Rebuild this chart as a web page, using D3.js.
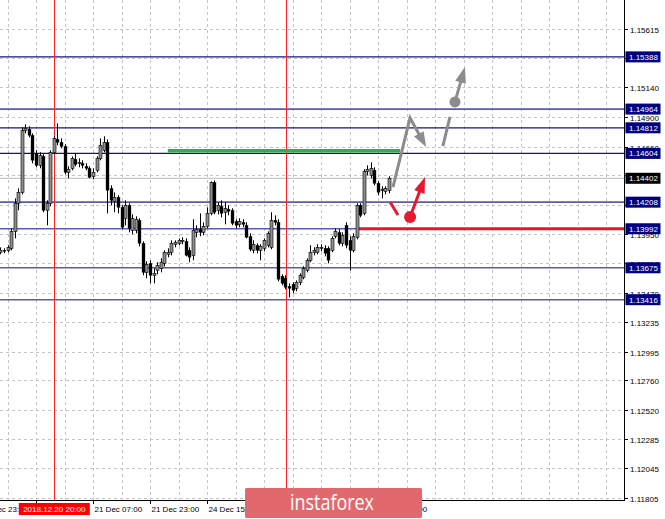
<!DOCTYPE html>
<html><head><meta charset="utf-8">
<script src="https://cdn.jsdelivr.net/npm/d3@7"></script>
<style>body{margin:0;background:#fff}svg{display:block}text{font-family:"Liberation Sans",Arial,sans-serif}</style>
</head><body>
<svg id="c" width="665" height="519"></svg>
<script>
// ---- data (EURUSD H1) ----
const opens = [1.13801,1.13817,1.13817,1.13833,1.13971,1.14199,1.14288,1.14791,1.14800,1.14751,
1.14605,1.14507,1.14580,1.14142,1.14199,1.14613,1.14718,1.14694,1.14661,1.14450,
1.14483,1.14556,1.14523,1.14523,1.14499,1.14483,1.14418,1.14467,1.14564,1.14629,
1.14694,1.14320,1.14215,1.14247,1.14166,1.14077,1.14182,1.13979,1.13979,1.14061,
1.13874,1.13638,1.13711,1.13614,1.13655,1.13671,1.13711,1.13785,1.13801,1.13866,
1.13874,1.13890,1.13890,1.13817,1.13776,1.13963,1.13988,1.13963,1.14012,1.14117,
1.14369,1.14142,1.14174,1.14126,1.14150,1.14142,1.14052,1.14028,1.14044,1.14020,
1.13931,1.13817,1.13858,1.13817,1.13833,1.13858,1.13841,1.14061,1.14044,1.13606,
1.13590,1.13525,1.13541,1.13508,1.13557,1.13598,1.13655,1.13736,1.13801,1.13801,
1.13833,1.13833,1.13833,1.13817,1.13931,1.13963,1.13874,1.14020,1.13898,1.13817,
1.13923,1.14182,1.14117,1.14458,1.14426,1.14467,1.14361,1.14304,1.14296,1.14304];
const highs = [1.13841,1.13833,1.13858,1.13996,1.14239,1.14320,1.14816,1.14840,1.14824,1.14767,
1.14629,1.14613,1.14597,1.14223,1.14629,1.14743,1.14848,1.14726,1.14678,1.14499,
1.14580,1.14605,1.14564,1.14548,1.14523,1.14499,1.14483,1.14580,1.14726,1.14743,
1.14718,1.14345,1.14288,1.14264,1.14182,1.14223,1.14199,1.14109,1.14093,1.14077,
1.13890,1.13728,1.13736,1.13671,1.13720,1.13752,1.13817,1.13833,1.13898,1.13898,
1.13914,1.13923,1.13914,1.13841,1.14069,1.14020,1.14117,1.14044,1.14166,1.14377,
1.14385,1.14207,1.14223,1.14207,1.14182,1.14158,1.14069,1.14077,1.14069,1.14044,
1.13955,1.13898,1.13874,1.13866,1.13914,1.13971,1.14126,1.14101,1.14069,1.13622,
1.13614,1.13549,1.13557,1.13573,1.13630,1.13687,1.13752,1.13858,1.13841,1.13866,
1.13866,1.13858,1.13849,1.13931,1.13996,1.13988,1.13963,1.14044,1.13931,1.13955,
1.14199,1.14199,1.14475,1.14507,1.14532,1.14491,1.14377,1.14337,1.14337,1.14418];
const lows = [1.13785,1.13793,1.13801,1.13817,1.13914,1.14142,1.14272,1.14767,1.14735,1.14523,
1.14491,1.14483,1.14126,1.14020,1.14174,1.14597,1.14670,1.14645,1.14434,1.14402,
1.14467,1.14499,1.14491,1.14483,1.14467,1.14402,1.14394,1.14450,1.14548,1.14613,
1.14117,1.14182,1.14126,1.14117,1.13988,1.14020,1.13963,1.13947,1.13955,1.13849,
1.13614,1.13590,1.13549,1.13549,1.13622,1.13638,1.13687,1.13760,1.13776,1.13841,
1.13858,1.13866,1.13768,1.13720,1.13736,1.13923,1.13931,1.13939,1.13996,1.14101,
1.14109,1.14109,1.14085,1.14028,1.14101,1.14020,1.13996,1.14004,1.14004,1.13914,
1.13809,1.13793,1.13793,1.13736,1.13809,1.13841,1.13825,1.14020,1.13565,1.13533,
1.13500,1.13435,1.13468,1.13484,1.13533,1.13582,1.13638,1.13720,1.13776,1.13785,
1.13809,1.13768,1.13711,1.13801,1.13914,1.13858,1.13849,1.13833,1.13655,1.13801,
1.13906,1.14085,1.14101,1.14426,1.14402,1.14345,1.14264,1.14239,1.14272,1.14280];
const closes = [1.13817,1.13809,1.13841,1.13971,1.14199,1.14288,1.14791,1.14808,1.14751,1.14548,
1.14507,1.14588,1.14142,1.14199,1.14613,1.14726,1.14694,1.14661,1.14450,1.14475,
1.14564,1.14515,1.14532,1.14507,1.14483,1.14410,1.14450,1.14564,1.14670,1.14694,
1.14304,1.14223,1.14247,1.14166,1.14004,1.14182,1.13996,1.14077,1.14069,1.13874,
1.13638,1.13703,1.13614,1.13630,1.13695,1.13720,1.13801,1.13801,1.13874,1.13882,
1.13898,1.13898,1.13776,1.13760,1.13979,1.13988,1.13963,1.14012,1.14117,1.14369,
1.14126,1.14182,1.14117,1.14158,1.14134,1.14036,1.14020,1.14052,1.14028,1.13923,
1.13825,1.13866,1.13817,1.13849,1.13898,1.13955,1.14061,1.14044,1.13582,1.13549,
1.13517,1.13508,1.13492,1.13557,1.13614,1.13671,1.13736,1.13801,1.13817,1.13841,
1.13841,1.13793,1.13736,1.13914,1.13971,1.13874,1.13939,1.13858,1.13817,1.13931,
1.14182,1.14101,1.14458,1.14475,1.14483,1.14361,1.14288,1.14312,1.14320,1.14402];

// visible price-scale labels (those fully hidden under level boxes are omitted)
const priceTicks = [1.15615,1.15380,1.15140,1.14900,1.14660,1.14425,1.14185,1.13950,1.13710,
  1.13470,1.13235,1.12995,1.12760,1.12520,1.12285,1.12045,1.11805];
const hiddenPriceLabels = [1.15380,1.14185];
const levelPrices = [1.15388,1.14964,1.14812,1.14604,1.14208,1.13992,1.13675,1.13416];
const levelStrong = [true,false,true,true,false,false,false,false];
const currentPrice = 1.14402;
const timeLabels = ["19 Dec 23:00","20 Dec 15:00","21 Dec 07:00","21 Dec 23:00","24 Dec 15:00","25 Dec 07:00","25 Dec 23:00","26 Dec 15:00"];
const timeLabelBars = [-6,10,26,42,58,74,90,106];
const hiddenTimeLabels = ["20 Dec 15:00","25 Dec 07:00","25 Dec 23:00"];
const markerBars = [15, 80.3];
const markerText = "2018.12.20 20:00";
// annotations: [bar index, price]
const greenLine = {price:1.14625, from:47, to:112.2};
const redLine = {price:1.13992, from:100.4};
const grayZigzag = [[110.2,1.14331],[115,1.14892],[119.5,1.14656]];
const graySeg = [[124.2,1.14664],[126.2,1.14900]];
const grayDot = [127.6,1.15022], grayArrowEnd = [130.4,1.15306];
const redSeg = [[109.4,1.14209],[111.6,1.14104]];
const redDot = [115,1.14087], redArrowEnd = [119.2,1.14412];

// ---- drawing ----
const svg = d3.select('#c');
const PW = 624, PH = 500;
const x = d3.scaleLinear().domain([0,109]).range([0.375,388.69]);
const y = d3.scaleLinear().domain([1.11789,1.15850]).range([PH,0]);
svg.append('defs').append('clipPath').attr('id','pc').append('rect').attr('width',PW).attr('height',PH);
const plot = svg.append('g').attr('clip-path','url(#pc)');

// grid
priceTicks.forEach(p=>{
  const yy = Math.round(y(p))+0.5;
  plot.append('line').attr('x1',0).attr('x2',PW).attr('y1',yy).attr('y2',yy)
    .attr('stroke','#c4c4c4').attr('stroke-dasharray','3,3');
});
d3.range(2,176,8).forEach(i=>{
  const xx = Math.round(x(i))+0.5;
  plot.append('line').attr('x1',xx).attr('x2',xx).attr('y1',0).attr('y2',PH)
    .attr('stroke','#c4c4c4').attr('stroke-dasharray','3,3');
});

// levels
levelPrices.forEach((p,k)=>{
  const yy = y(p);
  plot.append('line').attr('x1',0).attr('x2',PW).attr('y1',yy).attr('y2',yy)
    .attr('stroke',levelStrong[k]?'#14147a':'#5a5ab0').attr('stroke-width',levelStrong[k]?1.2:1.6);
});
plot.append('line').attr('x1',0).attr('x2',PW).attr('y1',y(currentPrice)).attr('y2',y(currentPrice))
  .attr('stroke','#c8c8c8').attr('stroke-width',1.3);

// marker verticals
markerBars.forEach(b=>{
  const xx = Math.round(x(b))+0.5;
  plot.append('line').attr('x1',xx).attr('x2',xx).attr('y1',0).attr('y2',PH).attr('stroke','#ff2020').attr('stroke-width',1);
});

// green & red horizontal annotations
plot.append('line').attr('x1',x(greenLine.from)).attr('x2',x(greenLine.to))
  .attr('y1',y(greenLine.price)).attr('y2',y(greenLine.price)).attr('stroke','#2fae4e').attr('stroke-width',3.5);
plot.append('line').attr('x1',x(redLine.from)).attr('x2',PW)
  .attr('y1',y(redLine.price)).attr('y2',y(redLine.price)).attr('stroke','#e4162b').attr('stroke-width',3);

// candles
const bars = opens.map((o,i)=>({i,o,h:highs[i],l:lows[i],c:closes[i]}));
const cg = plot.append('g');
bars.forEach(d=>{
  const cx = Math.round(x(d.i))+0.5;
  cg.append('line').attr('x1',cx).attr('x2',cx)
    .attr('y1',y(Math.max(d.h,d.o,d.c))).attr('y2',y(Math.min(d.l,d.o,d.c))).attr('stroke','#000').attr('stroke-width',1);
  const top = y(Math.max(d.o,d.c)), bot = y(Math.min(d.o,d.c));
  const bull = d.c>=d.o;
  cg.append('rect').attr('x',cx-1.5).attr('width',3).attr('y',top).attr('height',Math.max(1,bot-top))
    .attr('fill',bull?'#8e8e8e':'#000').attr('stroke','#000').attr('stroke-width',bull?0.6:0.3);
});

// arrows
function head(g,x1,y1,x2,y2,color,len,wid){
  const a = Math.atan2(y2-y1,x2-x1);
  const bx = x2-len*Math.cos(a), by = y2-len*Math.sin(a);
  const px = Math.sin(a)*wid/2, py = -Math.cos(a)*wid/2;
  g.append('path').attr('d',`M${x2},${y2}L${bx+px},${by+py}L${bx-px},${by-py}Z`).attr('fill',color);
  return [bx+ (x2-bx)*0.2, by+(y2-by)*0.2];
}
const ag = svg.append('g');
const gray = '#8c8c8c', red = '#e8182d';
{
  const pts = grayZigzag.map(p=>[x(p[0]),y(p[1])]);
  const n = pts.length;
  const base = head(ag,pts[n-2][0],pts[n-2][1],pts[n-1][0],pts[n-1][1],gray,15,11);
  const lp = pts.slice(0,n-1).concat([base]);
  ag.append('path').attr('d',d3.line()(lp)).attr('fill','none').attr('stroke',gray).attr('stroke-width',3).attr('stroke-linejoin','miter');
}
ag.append('path').attr('d',d3.line()(graySeg.map(p=>[x(p[0]),y(p[1])]))).attr('stroke',gray).attr('stroke-width',3);
{
  const dx=x(grayDot[0]), dy=y(grayDot[1]), ex=x(grayArrowEnd[0]), ey=y(grayArrowEnd[1]);
  const base = head(ag,dx,dy,ex,ey,gray,16,11);
  ag.append('line').attr('x1',dx).attr('y1',dy).attr('x2',base[0]).attr('y2',base[1]).attr('stroke',gray).attr('stroke-width',3);
  ag.append('circle').attr('cx',dx).attr('cy',dy).attr('r',5.5).attr('fill',gray);
}
ag.append('path').attr('d',d3.line()(redSeg.map(p=>[x(p[0]),y(p[1])]))).attr('stroke',red).attr('stroke-width',3);
{
  const dx=x(redDot[0]), dy=y(redDot[1]), ex=x(redArrowEnd[0]), ey=y(redArrowEnd[1]);
  const base = head(ag,dx,dy,ex,ey,red,16,11);
  ag.append('line').attr('x1',dx).attr('y1',dy).attr('x2',base[0]).attr('y2',base[1]).attr('stroke',red).attr('stroke-width',3);
  ag.append('circle').attr('cx',dx).attr('cy',dy).attr('r',6).attr('fill',red);
}

// axes frame
svg.append('line').attr('x1',PW+0.5).attr('x2',PW+0.5).attr('y1',0).attr('y2',PH+1).attr('stroke','#000');
svg.append('line').attr('x1',0).attr('x2',PW+1).attr('y1',PH+0.5).attr('y2',PH+0.5).attr('stroke','#000');

// price tick labels
priceTicks.forEach(p=>{
  const yy = Math.round(y(p))+0.5;
  svg.append('line').attr('x1',PW+1).attr('x2',PW+4).attr('y1',yy).attr('y2',yy).attr('stroke','#000');
  if (hiddenPriceLabels.includes(p)) return;
  svg.append('text').attr('x',PW+6).attr('y',yy+3).attr('font-size',8).attr('fill','#000').text(d3.format('.5f')(p));
});
function box(p,fill){
  const yy = y(p);
  svg.append('rect').attr('x',PW+1.5).attr('y',yy-5.5).attr('width',35).attr('height',11).attr('fill',fill);
  svg.append('text').attr('x',PW+5).attr('y',yy+3).attr('font-size',8).attr('fill','#fff').text(d3.format('.5f')(p));
}
levelPrices.forEach(p=>box(p,'#000080'));
box(currentPrice,'#000');

// time axis
timeLabelBars.forEach((b,k)=>{
  const xx = Math.round(x(b))+0.5;
  svg.append('line').attr('x1',xx).attr('x2',xx).attr('y1',PH).attr('y2',PH+4).attr('stroke','#000');
  if (hiddenTimeLabels.includes(timeLabels[k])) return;
  svg.append('text').attr('x',xx+1).attr('y',512).attr('font-size',8).attr('fill','#000').text(timeLabels[k]);
});
{
  const mx = x(markerBars[0]);
  svg.append('rect').attr('x',mx-35).attr('y',503).attr('width',71).attr('height',12).attr('fill','#ff0000');
  svg.append('text').attr('x',mx+0.5).attr('y',512).attr('text-anchor','middle').attr('font-size',8).attr('fill','#fff').text(markerText);
}

// logo
svg.append('rect').attr('x',245).attr('y',488).attr('width',177).attr('height',30).attr('rx',1.5).attr('fill','#e1696e');
svg.append('text').attr('x',290).attr('y',510).attr('font-size',21).attr('fill','#fff')
  .attr('style','font-family:"Open Sans",sans-serif').attr('textLength',84).attr('lengthAdjust','spacingAndGlyphs').text('instaforex');
</script>
</body></html>
